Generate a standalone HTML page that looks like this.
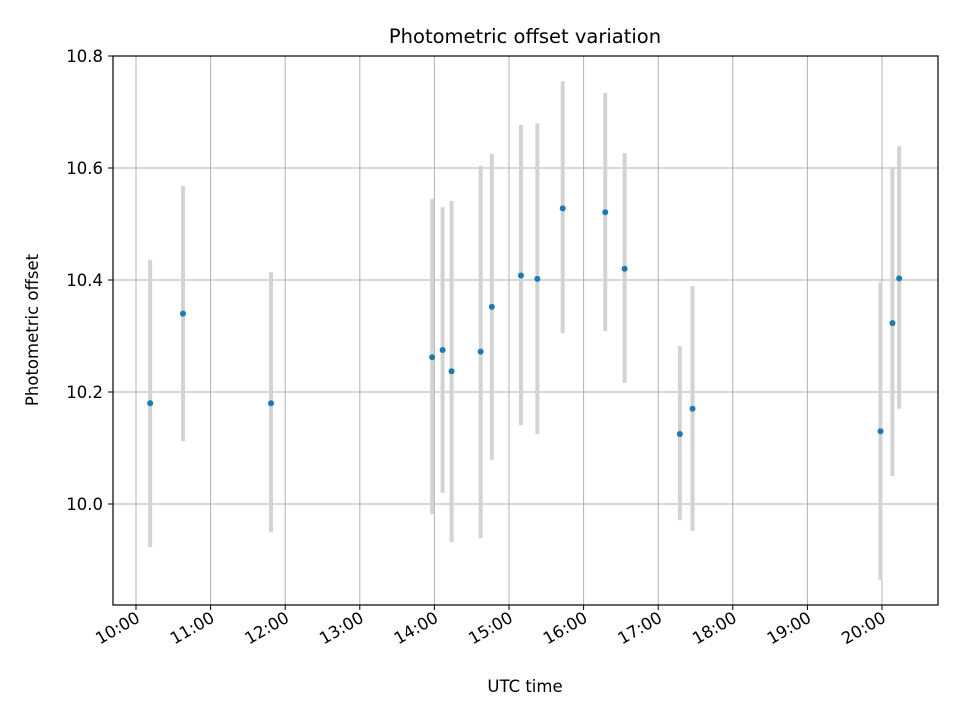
<!DOCTYPE html>
<html><head><meta charset="utf-8"><style>
body{margin:0;background:#fff}
text{font-family:"DejaVu Sans","Liberation Sans",sans-serif;fill:#000}
</style></head><body>
<svg id="chart" width="960" height="720" xmlns="http://www.w3.org/2000/svg">
<rect width="960" height="720" fill="#fff"/>
<g id="grid"></g><g id="marks"></g><g id="axes"></g>
<text x="525" y="43" style="font-size:19.5px" text-anchor="middle">Photometric offset variation</text>
<text x="525" y="692" style="font-size:16.5px" text-anchor="middle">UTC time</text>
<text transform="translate(38,330) rotate(-90)" style="font-size:16.5px" text-anchor="middle">Photometric offset</text>
</svg>
<script>
const times=[10.19,10.63,11.81,13.97,14.11,14.23,14.62,14.77,15.16,15.38,15.72,16.29,16.55,17.29,17.46,19.98,20.14,20.23];
const values=[10.18,10.34,10.18,10.262,10.275,10.237,10.272,10.352,10.408,10.402,10.528,10.521,10.42,10.125,10.17,10.13,10.323,10.403];
const errLow=[9.923,10.112,9.95,9.982,10.02,9.932,9.939,10.079,10.141,10.125,10.305,10.309,10.216,9.971,9.952,9.864,10.05,10.17];
const errHigh=[10.436,10.568,10.414,10.545,10.53,10.541,10.604,10.625,10.677,10.68,10.755,10.734,10.627,10.282,10.389,10.396,10.6,10.639];
const xTicks=[10,11,12,13,14,15,16,17,18,19,20];
const xTickLabels=["10:00","11:00","12:00","13:00","14:00","15:00","16:00","17:00","18:00","19:00","20:00"];
const yTicks=[10.0,10.2,10.4,10.6,10.8];
const yTickLabels=["10.0","10.2","10.4","10.6","10.8"];
const L=113,R=938,T=56,B=605;
const sx=h=>136+(h-10)*74.6;
const sy=v=>56+(10.8-v)*560;
const NS="http://www.w3.org/2000/svg";
function mk(tag,attrs,parent){const e=document.createElementNS(NS,tag);for(const k in attrs)e.setAttribute(k,attrs[k]);document.getElementById(parent).appendChild(e);return e;}
xTicks.forEach((t,i)=>{const x=sx(t);
 const g=mk('line',{x1:x,x2:x,y1:T,y2:B,stroke:'#b0b0b0','stroke-width':1},'grid');
 
 
 const tk=mk('line',{x1:x,x2:x,y1:B,y2:B+5,stroke:'#000','stroke-width':1},'axes');
 
 
 const tx=mk('text',{x:x+5,y:B+16,style:'font-size:16.5px','text-anchor':'end',transform:`rotate(-30 ${x+5} ${B+16})`},'axes');
 tx.textContent=xTickLabels[i];
 
 
});
yTicks.forEach((t,i)=>{const y=sy(t);
 const g=mk('line',{x1:L,x2:R,y1:y,y2:y,stroke:'#b0b0b0','stroke-width':1},'grid');
 
 
 const tk=mk('line',{x1:L-5,x2:L,y1:y,y2:y,stroke:'#000','stroke-width':1},'axes');
 
 
 const tx=mk('text',{x:L-10,y:y+6,style:'font-size:16.5px','text-anchor':'end'},'axes');
 tx.textContent=yTickLabels[i];
 
 
});
const fr=mk('rect',{x:L,y:T,width:R-L,height:B-T,fill:'none',stroke:'#000','stroke-width':1.2},'axes');


times.forEach((t,i)=>{const x=sx(t);
 const eb=mk('line',{x1:x,x2:x,y1:sy(errLow[i]),y2:sy(errHigh[i]),stroke:'#d3d3d3','stroke-width':4},'marks');
 
 
});
times.forEach((t,i)=>{
 const c=mk('circle',{cx:sx(t),cy:sy(values[i]),r:3,fill:'#1f77b4'},'marks');
 
 
});
</script>
</body></html>
